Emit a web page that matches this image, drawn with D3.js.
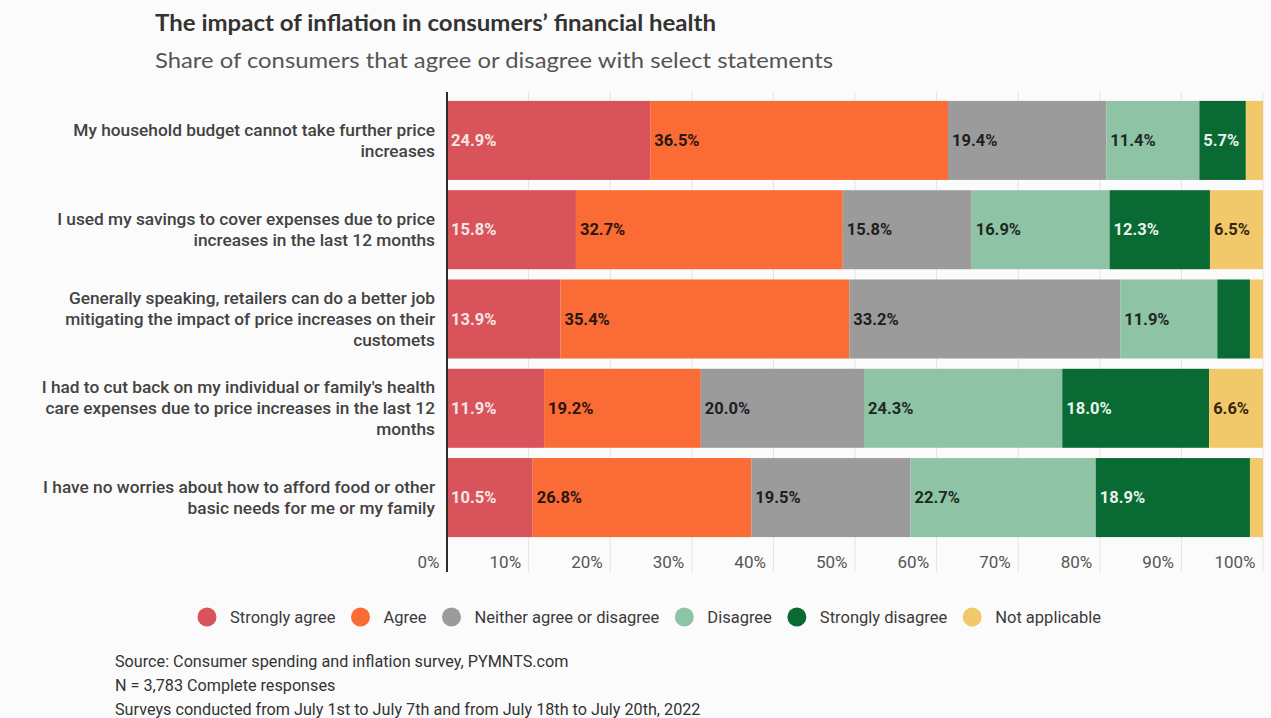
<!DOCTYPE html>
<html>
<head>
<meta charset="utf-8">
<script src="https://cdn.jsdelivr.net/npm/d3@7"></script>
<style>
  html, body { margin: 0; padding: 0; background: #fbfbfb; }
  svg { display: block; }
</style>
</head>
<body>
<svg id="chart" width="1271" height="718"></svg>
<script>
// Survey statements (each line of a label is a separate entry)
const statements = [
  ["My household budget cannot take further price", "increases"],
  ["I used my savings to cover expenses due to price", "increases in the last 12 months"],
  ["Generally speaking, retailers can do a better job", "mitigating the impact of price increases on their", "customets"],
  ["I had to cut back on my individual or family's health", "care expenses due to price increases in the last 12", "months"],
  ["I have no worries about how to afford food or other", "basic needs for me or my family"]
];

const responses = ["Strongly agree", "Agree", "Neither agree or disagree", "Disagree", "Strongly disagree", "Not applicable"];

// Share of respondents (%) per statement, one array per response
const stronglyAgree    = [24.9, 15.8, 13.9, 11.9, 10.5];
const agree            = [36.5, 32.7, 35.4, 19.2, 26.8];
const neither          = [19.4, 15.8, 33.2, 20.0, 19.5];
const disagree         = [11.4, 16.9, 11.9, 24.3, 22.7];
const stronglyDisagree = [5.7, 12.3, 4.0, 18.0, 18.9];
const notApplicable    = [2.1, 6.5, 1.6, 6.6, 1.6];

const tickValues = [0, 10, 20, 30, 40, 50, 60, 70, 80, 90, 100];

const colors = ["#d9535a", "#fb6b35", "#9b9b9b", "#8fc3a6", "#0a6a34", "#f1c96b"];
const labelColors = ["#f7e6e6", "#2a1610", "#1e1e1e", "#1c2a22", "#e9f3ed", "#35270f"];

const seriesValues = [stronglyAgree, agree, neither, disagree, stronglyDisagree, notApplicable];
const rows = statements.map((s, i) => {
  const r = { idx: i };
  responses.forEach((k, j) => { r[k] = seriesValues[j][i]; });
  return r;
});

const svg = d3.select("#chart");

const x = d3.scaleLinear().domain([0, 100]).range([447, 1263]);
const y = d3.scaleBand().domain(d3.range(statements.length)).range([96, 542]).paddingInner(0.115).paddingOuter(0.055);
const color = d3.scaleOrdinal().domain(responses).range(colors);
const textColor = d3.scaleOrdinal().domain(responses).range(labelColors);

// Title block
svg.append("text")
  .attr("x", 155).attr("y", 31)
  .attr("font-family", "Lato, sans-serif").attr("font-weight", 700)
  .attr("font-size", 23).attr("fill", "#333")
  .attr("textLength", 561).attr("lengthAdjust", "spacingAndGlyphs")
  .text("The impact of inflation in consumers’ financial health");

svg.append("text")
  .attr("x", 155).attr("y", 68)
  .attr("font-family", "Lato, sans-serif").attr("font-weight", 400)
  .attr("font-size", 22).attr("fill", "#555")
  .attr("textLength", 678).attr("lengthAdjust", "spacingAndGlyphs")
  .text("Share of consumers that agree or disagree with select statements");

// Vertical gridlines
svg.append("g")
  .selectAll("line")
  .data(tickValues.slice(1))
  .join("line")
  .attr("x1", d => x(d)).attr("x2", d => x(d))
  .attr("y1", 92).attr("y2", 572)
  .attr("stroke", "#e4e4e4").attr("stroke-width", 1);

// Stacked bars
const stack = d3.stack().keys(responses)(rows);

const layers = svg.append("g")
  .selectAll("g")
  .data(stack)
  .join("g")
  .attr("fill", d => color(d.key));

layers.selectAll("rect")
  .data(d => d.map(v => Object.assign(v, { key: d.key })))
  .join("rect")
  .attr("x", d => x(d[0]))
  .attr("y", d => y(d.data.idx))
  .attr("width", d => x(d[1]) - x(d[0]))
  .attr("height", y.bandwidth());

// Value labels on segments wide enough to hold them
layers.selectAll("text")
  .data(d => d.filter(v => v[1] - v[0] >= 5))
  .join("text")
  .attr("x", d => x(d[0]) + 4)
  .attr("y", d => y(d.data.idx) + y.bandwidth() / 2)
  .attr("dy", "0.35em")
  .attr("font-family", "Roboto, sans-serif").attr("font-weight", 700)
  .attr("font-size", 16.5)
  .attr("fill", d => textColor(d.key))
  .text(d => d3.format(".1f")(d[1] - d[0]) + "%");

// Category labels
const catG = svg.append("g")
  .selectAll("text")
  .data(statements)
  .join("text")
  .attr("text-anchor", "end")
  .attr("font-family", "Roboto, sans-serif").attr("font-weight", 500)
  .attr("font-size", 17.3).attr("fill", "#424242")
  .attr("transform", (d, i) => `translate(435,${y(i) + y.bandwidth() / 2 - (d.length - 1) * 10.5})`);

catG.selectAll("tspan")
  .data(d => d)
  .join("tspan")
  .attr("x", 0)
  .attr("y", (d, i) => i * 21)
  .attr("dy", "0.35em")
  .text(d => d);

// Axis line at 0%
svg.append("line")
  .attr("x1", x(0)).attr("x2", x(0))
  .attr("y1", 92).attr("y2", 572)
  .attr("stroke", "#2b2b2b").attr("stroke-width", 2);

// Tick labels, right-aligned just before each gridline
const xAxis = d3.axisBottom(x)
  .tickValues(tickValues)
  .tickFormat(d => d + "%")
  .tickSize(0)
  .tickPadding(0);

const axisG = svg.append("g")
  .attr("transform", "translate(0,556)")
  .call(xAxis);
axisG.select(".domain").remove();
axisG.selectAll("text")
  .attr("text-anchor", "end")
  .attr("dx", -8)
  .attr("font-family", "Roboto, sans-serif")
  .attr("font-size", 17)
  .attr("fill", "#555");

// Legend
const legend = svg.append("g");
const items = legend.selectAll("g")
  .data(responses)
  .join("g");
items.append("circle")
  .attr("r", 9.5)
  .attr("cy", 617)
  .attr("fill", d => color(d));
items.append("text")
  .attr("x", 23)
  .attr("y", 617)
  .attr("dy", "0.35em")
  .attr("font-family", "Roboto, sans-serif")
  .attr("font-size", 16.5)
  .attr("fill", "#3a3a3a")
  .text(d => d);

let cx = 207;
items.each(function () {
  const g = d3.select(this);
  g.attr("transform", `translate(${cx},0)`);
  cx += 23 + g.select("text").node().getComputedTextLength() + 25;
});

// Footnotes
const notes = [
  "Source: Consumer spending and inflation survey, PYMNTS.com",
  "N = 3,783 Complete responses",
  "Surveys conducted from July 1st to July 7th and from July 18th to July 20th, 2022"
];
svg.append("g")
  .selectAll("text")
  .data(notes)
  .join("text")
  .attr("x", 115)
  .attr("y", (d, i) => 667 + i * 24)
  .attr("font-family", "Roboto, sans-serif")
  .attr("font-size", 16.2)
  .attr("fill", "#333")
  .text(d => d);
</script>
</body>
</html>
